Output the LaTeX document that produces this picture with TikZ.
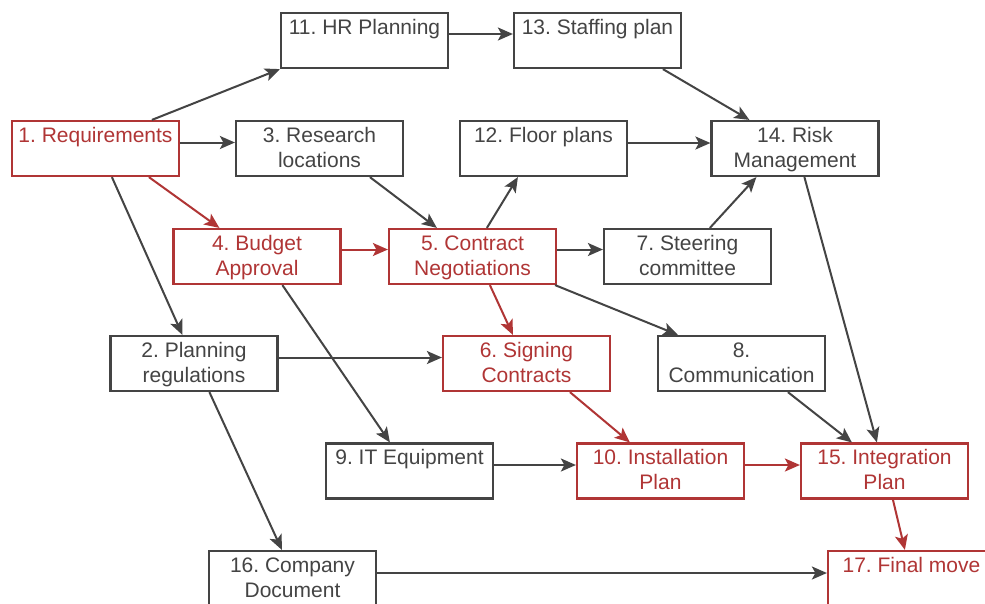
\documentclass[tikz,border=0pt]{standalone}
\usepackage{fontspec}
\setmainfont{Liberation Sans}
\usetikzlibrary{arrows.meta,calc}
\definecolor{dg}{HTML}{444444}
\definecolor{rd}{HTML}{B03535}
\newcommand{\ls}{\rule[-6pt]{0pt}{24pt}}
\frenchspacing
\begin{document}
\begin{tikzpicture}[x=1pt,y=-1pt,
  box/.style={draw=dg,text=dg,line width=2.2pt,minimum width=167pt,minimum height=55pt,
    inner sep=0pt,align=center,font=\fontsize{21}{23}\selectfont\frenchspacing},
  rbox/.style={box,draw=rd,text=rd},
  con/.style={draw=dg,line width=2pt,-{Stealth[length=15pt,width=13pt,inset=3.5pt]}},
  rcon/.style={con,draw=rd,fill=rd}]
\useasboundingbox (0,0) rectangle (985,603);
\clip (0,0) rectangle (985,603);
\fill[white] (0,0) rectangle (985,603);
% nodes
\node[box]  (n11) at (364.5,40.5) {\ls 11. HR Planning\\\ls};
\node[box]  (n13) at (597.5,40.5) {\ls 13. Staffing plan\\\ls};
\node[rbox] (n1)  at (95.5,148.5) {\ls 1. Requirements\\\ls};
\node[box]  (n3)  at (319.5,148.5) {\ls 3. Research\\\ls locations};
\node[box]  (n12) at (543.5,148.5) {\ls 12. Floor plans\\\ls};
\node[box]  (n14) at (795,148.5) {\ls 14. Risk\\\ls Management};
\node[rbox] (n4)  at (257,256.5) {\ls 4. Budget\\\ls Approval};
\node[rbox] (n5)  at (472.5,256.5) {\ls 5. Contract\\\ls Negotiations};
\node[box]  (n7)  at (687.5,256.5) {\ls 7. Steering\\\ls committee};
\node[box]  (n2)  at (194,363.5) {\ls 2. Planning\\\ls regulations};
\node[rbox] (n6)  at (526.5,363.5) {\ls 6. Signing\\\ls Contracts};
\node[box]  (n8)  at (741.5,363.5) {\ls 8.\\\ls Communication};
\node[box]  (n9)  at (409.5,471) {\ls 9. IT Equipment\\\ls};
\node[rbox] (n10) at (660.5,471) {\ls 10. Installation\\\ls Plan};
\node[rbox] (n15) at (884.5,471) {\ls 15. Integration\\\ls Plan};
\node[box]  (n16) at (292.5,578.5) {\ls 16. Company\\\ls Document};
\node[rbox] (n17) at (911.5,578.5) {\ls 17. Final move\\\ls};
% connectors
\draw[con] ($(n1.north west)+(141,0)$) -- (n11.south west);
\draw[con] ($(n1.east)+(0,-6)$) -- ($(n3.west)+(0,-6)$);
\draw[rcon] ($(n1.south west)+(138,0)$) -- ($(n4.north west)+(47,0)$);
\draw[con] ($(n1.south west)+(101,0)$) -- ($(n2.north west)+(73,0)$);
\draw[con] ($(n3.south west)+(135,0)$) -- ($(n5.north west)+(49,0)$);
\draw[rcon] ($(n4.east)+(0,-7)$) -- ($(n5.west)+(0,-7)$);
\draw[con] ($(n11.east)+(0,-6.5)$) -- ($(n13.west)+(0,-6.5)$);
\draw[con] ($(n13.south west)+(150,0)$) -- ($(n14.north west)+(39,0)$);
\draw[con] ($(n12.east)+(0,-5.5)$) -- ($(n14.west)+(0,-5.5)$);
\draw[con] ($(n5.north west)+(99,0)$) -- ($(n12.south west)+(59,0)$);
\draw[con] ($(n7.north west)+(107,0)$) -- ($(n14.south west)+(46,0)$);
\draw[con] ($(n5.east)+(0,-7)$) -- ($(n7.west)+(0,-7)$);
\draw[rcon] ($(n5.south west)+(102,0)$) -- ($(n6.north west)+(71,0)$);
\draw[con] ($(n5.south east)+(-2,0)$) -- ($(n8.north west)+(21,0)$);
\draw[con] ($(n4.south west)+(110,0)$) -- ($(n9.north west)+(65,0)$);
\draw[con] ($(n2.east)+(0,-6)$) -- ($(n6.west)+(0,-6)$);
\draw[con] ($(n2.south west)+(100,0)$) -- ($(n16.north west)+(74,0)$);
\draw[rcon] ($(n6.south west)+(128,0)$) -- ($(n10.north west)+(54,0)$);
\draw[con] ($(n9.east)+(0,-6)$) -- ($(n10.west)+(0,-6)$);
\draw[rcon] ($(n10.east)+(0,-6)$) -- ($(n15.west)+(0,-6)$);
\draw[con] ($(n8.south west)+(131,0)$) -- ($(n15.north west)+(52,0)$);
\draw[con] ($(n14.south west)+(94,0)$) -- ($(n15.north west)+(77,0)$);
\draw[rcon] ($(n15.south west)+(93,0)$) -- ($(n17.north west)+(78,0)$);
\draw[con] ($(n16.east)+(0,-5.5)$) -- ($(n17.west)+(0,-5.5)$);
\end{tikzpicture}
\end{document}
